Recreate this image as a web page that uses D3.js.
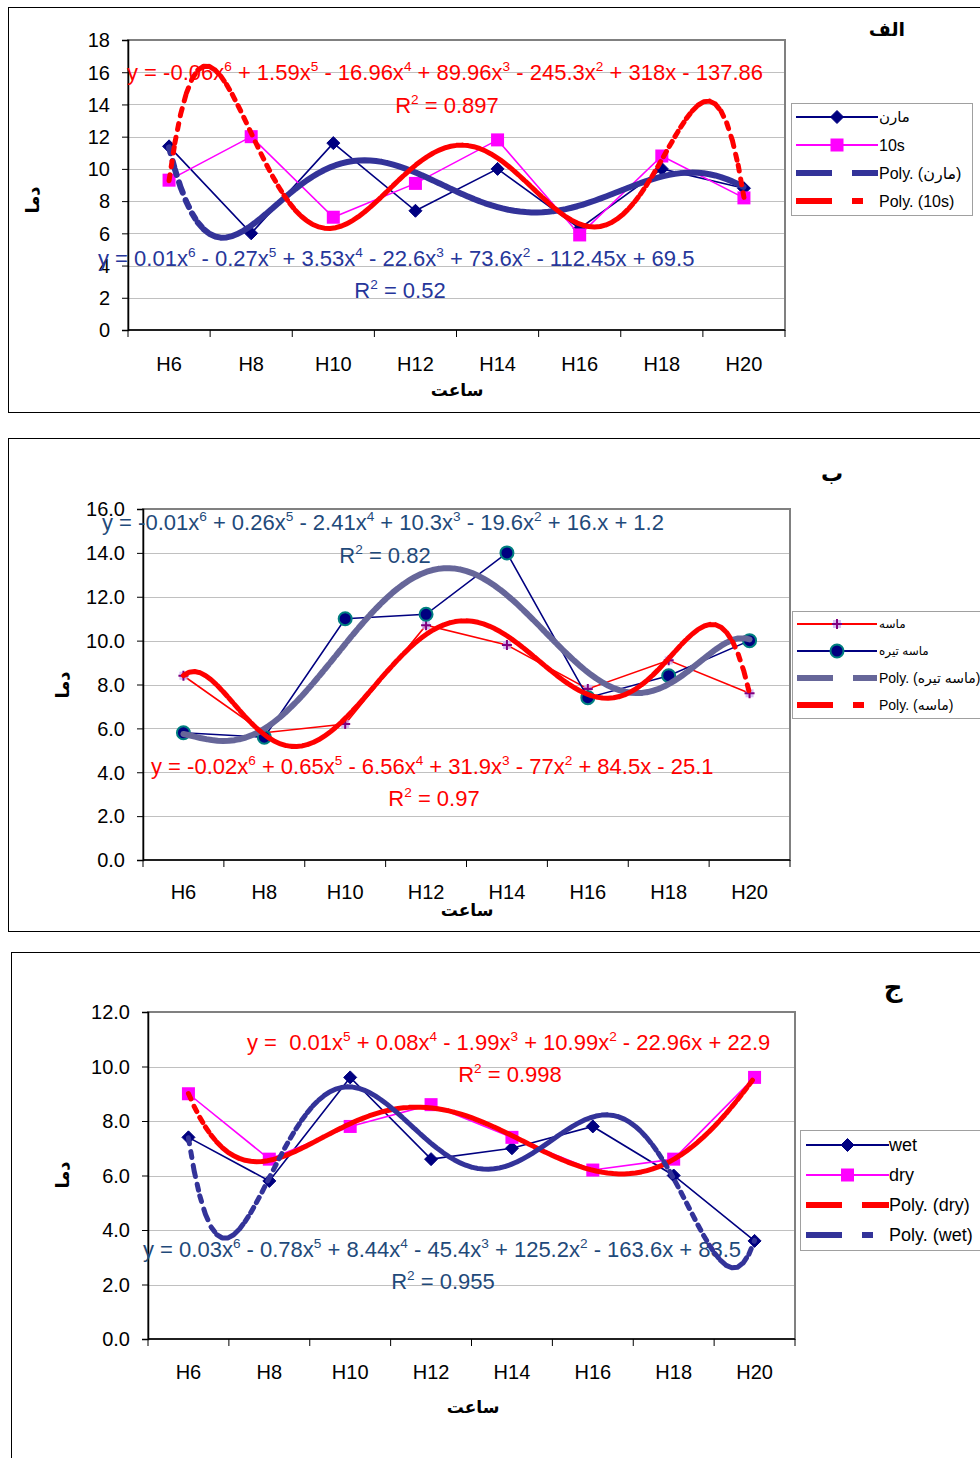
<!DOCTYPE html>
<html>
<head>
<meta charset="utf-8">
<script src="https://cdn.jsdelivr.net/npm/d3@7"></script>
<style>
  body { margin: 0; background: #fff; }
  svg { display: block; }
  text { font-family: "Liberation Sans", Arial, "DejaVu Sans", sans-serif; }
</style>
</head>
<body>
<svg id="chart" width="980" height="1458"></svg>
<script>
// ---- data ----
const hours = ["H6", "H8", "H10", "H12", "H14", "H16", "H18", "H20"];

// panel الف
const marnValues = [11.4, 6.0, 11.6, 7.4, 10.0, 6.3, 10.0, 8.8];
const s10Values = [9.3, 12.0, 7.0, 9.1, 11.8, 5.9, 10.8, 8.2];
const ticksA = [0, 2, 4, 6, 8, 10, 12, 14, 16, 18];

// panel ب
const masehValues = [8.4, 5.8, 6.2, 10.7, 9.8, 7.8, 9.1, 7.6];
const masehTirehValues = [5.8, 5.6, 11.0, 11.2, 14.0, 7.4, 8.4, 10.0];
const ticksB = [0, 2, 4, 6, 8, 10, 12, 14, 16];

// panel ج
const wetValues = [7.4, 5.8, 9.6, 6.6, 7.0, 7.8, 6.0, 3.6];
const dryValues = [9.0, 6.6, 7.8, 8.6, 7.4, 6.2, 6.6, 9.6];
const ticksC = [0, 2, 4, 6, 8, 10, 12];

// trendline labels
const eqA = ["y = -0.06x^6 + 1.59x^5 - 16.96x^4 + 89.96x^3 - 245.3x^2 + 318x - 137.86", "R^2 = 0.897",
             "y = 0.01x^6 - 0.27x^5 + 3.53x^4 - 22.6x^3 + 73.6x^2 - 112.45x + 69.5", "R^2 = 0.52"];
const eqB = ["y = -0.01x^6 + 0.26x^5 - 2.41x^4 + 10.3x^3 - 19.6x^2 + 16.x + 1.2", "R^2 = 0.82",
             "y = -0.02x^6 + 0.65x^5 - 6.56x^4 + 31.9x^3 - 77x^2 + 84.5x - 25.1", "R^2 = 0.97"];
const eqC = ["y =  0.01x^5 + 0.08x^4 - 1.99x^3 + 10.99x^2 - 22.96x + 22.9", "R^2 = 0.998",
             "y = 0.03x^6 - 0.78x^5 + 8.44x^4 - 45.4x^3 + 125.2x^2 - 163.6x + 83.5", "R^2 = 0.955"];

const axisTitle = "ساعت";
const valueTitle = "دما";

// ---- least squares polynomial trend (x = 1..n, like a spreadsheet trendline) ----
function polyfit(ys, deg) {
  const n = ys.length, mid = (n + 1) / 2, half = (n - 1) / 2;
  const m = deg + 1;
  const A = Array.from({length: m}, () => new Array(m).fill(0));
  const b = new Array(m).fill(0);
  ys.forEach((y, i) => {
    const t = (i + 1 - mid) / half;
    for (let r = 0; r < m; r++) {
      b[r] += y * Math.pow(t, r);
      for (let c = 0; c < m; c++) A[r][c] += Math.pow(t, r + c);
    }
  });
  for (let col = 0; col < m; col++) {
    let piv = col;
    for (let r = col + 1; r < m; r++) if (Math.abs(A[r][col]) > Math.abs(A[piv][col])) piv = r;
    [A[col], A[piv]] = [A[piv], A[col]];
    [b[col], b[piv]] = [b[piv], b[col]];
    for (let r = col + 1; r < m; r++) {
      const f = A[r][col] / A[col][col];
      for (let c = col; c < m; c++) A[r][c] -= f * A[col][c];
      b[r] -= f * b[col];
    }
  }
  const coef = new Array(m).fill(0);
  for (let r = m - 1; r >= 0; r--) {
    let s = b[r];
    for (let c = r + 1; c < m; c++) s -= A[r][c] * coef[c];
    coef[r] = s / A[r][r];
  }
  return x => {
    const t = (x - mid) / half;
    let v = 0;
    for (let k = m - 1; k >= 0; k--) v = v * t + coef[k];
    return v;
  };
}

const svg = d3.select("#chart");

function richText(g, str, x, y, opts) {
  const t = g.append("text")
    .attr("x", x).attr("y", y)
    .attr("fill", opts.color)
    .attr("font-size", opts.size)
    .attr("text-anchor", opts.anchor || "start");
  const parts = str.split(/\^(\d)/);
  parts.forEach((p, i) => {
    if (i % 2 === 0) {
      if (!p) return;
      const ts = t.append("tspan").text(p).attr("xml:space", "preserve");
      if (i > 0) ts.attr("dy", opts.size * 0.4);
    } else {
      t.append("tspan").text(p).attr("font-size", opts.size * 0.62).attr("dy", -opts.size * 0.4);
    }
  });
  t.style("white-space", "pre");
  return t;
}

function drawMarker(g, type, cx, cy, color) {
  if (type === "diamond") {
    const r = 6.5;
    g.append("path")
      .attr("d", `M${cx},${cy - r}L${cx + r},${cy}L${cx},${cy + r}L${cx - r},${cy}Z`)
      .attr("fill", color).attr("stroke", color).attr("stroke-width", 1);
  } else if (type === "square") {
    g.append("rect").attr("x", cx - 6.5).attr("y", cy - 6.5).attr("width", 13).attr("height", 13)
      .attr("fill", color);
  } else if (type === "circle") {
    g.append("circle").attr("cx", cx).attr("cy", cy).attr("r", 6.5)
      .attr("fill", "#000080").attr("stroke", "#008080").attr("stroke-width", 2);
  } else if (type === "plus") {
    g.append("rect").attr("x", cx - 4).attr("y", cy - 4).attr("width", 8).attr("height", 8)
      .attr("fill", "#C8A8F0").attr("opacity", 0.75);
    g.append("path").attr("d", `M${cx - 5},${cy}H${cx + 5}M${cx},${cy - 5}V${cy + 5}`)
      .attr("stroke", "#800080").attr("stroke-width", 2);
  }
}

function drawPanel(cfg) {
  const g = svg.append("g");
  const p = cfg.plot;

  // outer frame
  g.append("rect").attr("x", cfg.frame.x + 0.5).attr("y", cfg.frame.y + 0.5)
    .attr("width", cfg.frame.w).attr("height", cfg.frame.h)
    .attr("fill", "none").attr("stroke", "#000").attr("stroke-width", 1);

  const xBand = d3.scaleBand().domain(hours).range([p.left, p.right]);
  const xNum = d3.scaleLinear().domain([0.5, hours.length + 0.5]).range([p.left, p.right]);
  const y = d3.scaleLinear().domain([0, cfg.ticks[cfg.ticks.length - 1]]).range([p.bottom, p.top]);

  // gridlines
  g.append("g").selectAll("line").data(cfg.ticks.slice(1)).join("line")
    .attr("x1", p.left).attr("x2", p.right)
    .attr("y1", d => Math.round(y(d)) + 0.5).attr("y2", d => Math.round(y(d)) + 0.5)
    .attr("stroke", "#C0C0C0").attr("stroke-width", 1);

  // plot area border
  g.append("rect").attr("x", p.left).attr("y", p.top)
    .attr("width", p.right - p.left).attr("height", p.bottom - p.top)
    .attr("fill", "none").attr("stroke", "#808080").attr("stroke-width", 2);

  // y axis
  const yAxis = d3.axisLeft(y).tickValues(cfg.ticks).tickFormat(cfg.fmt).tickSize(6).tickPadding(12);
  const ya = g.append("g").attr("transform", `translate(${p.left},0)`).call(yAxis);
  ya.select(".domain").attr("stroke", "#000").attr("stroke-width", 1.5);
  ya.selectAll(".tick line").attr("stroke", "#000");
  ya.selectAll(".tick text").attr("font-size", 20).attr("fill", "#000")
    .attr("font-family", '"Liberation Sans", Arial, sans-serif')
    .attr("dy", "0.34em");

  // x axis (ticks at category boundaries)
  const xa = g.append("g").attr("transform", `translate(0,${p.bottom})`);
  xa.append("line").attr("x1", p.left).attr("x2", p.right).attr("y1", 0).attr("y2", 0)
    .attr("stroke", "#000").attr("stroke-width", 1.5);
  xa.selectAll("line.tk").data(d3.range(hours.length + 1)).join("line").attr("class", "tk")
    .attr("x1", i => p.left + i * xBand.step()).attr("x2", i => p.left + i * xBand.step())
    .attr("y1", 0).attr("y2", 7).attr("stroke", "#000");
  xa.selectAll("text").data(hours).join("text")
    .attr("x", d => xBand(d) + xBand.bandwidth() / 2).attr("y", cfg.xLabelY - p.bottom)
    .attr("text-anchor", "middle").attr("font-size", 20).text(d => d);

  // titles
  g.append("text").attr("x", cfg.axisTitle[0]).attr("y", cfg.axisTitle[1])
    .attr("text-anchor", "middle").attr("font-size", 17).attr("font-weight", "bold").text(axisTitle);
  g.append("text").attr("transform", `translate(${cfg.valueTitle[0]},${cfg.valueTitle[1]}) rotate(-90)`)
    .attr("text-anchor", "middle").attr("dy", "0.35em")
    .attr("font-size", 18).attr("font-weight", "bold").text(valueTitle);
  g.append("text").attr("x", cfg.title[0]).attr("y", cfg.title[1])
    .attr("text-anchor", "middle").attr("font-size", cfg.title[2]).attr("font-weight", "bold")
    .attr("font-family", '"DejaVu Sans", sans-serif').text(cfg.title[3]);

  // trendline labels (beneath the marks)
  cfg.labels.forEach(l => richText(g, l.text, l.x, l.y, {color: l.color, size: l.size || 22, anchor: l.anchor}));

  // series lines + markers
  cfg.series.forEach(s => {
    const pts = s.values.map((v, i) => [xBand(hours[i]) + xBand.bandwidth() / 2, y(v)]);
    g.append("path").attr("d", d3.line()(pts)).attr("fill", "none")
      .attr("stroke", s.color).attr("stroke-width", 1.6);
    pts.forEach(pt => drawMarker(g, s.marker, pt[0], pt[1], s.markerColor || s.color));
  });

  // polynomial trendlines, drawn as short pieces so steep stretches break into dashes
  cfg.trends.forEach(t => {
    const f = polyfit(t.source, t.deg);
    const xs = d3.range(1, hours.length + 1e-9, 0.07);
    if (xs[xs.length - 1] < hours.length) xs.push(hours.length);
    let d = "";
    for (let i = 0; i < xs.length - 1; i++) {
      d += `M${xNum(xs[i])},${y(f(xs[i]))}L${xNum(xs[i + 1])},${y(f(xs[i + 1]))}`;
    }
    g.append("path").attr("d", d).attr("fill", "none")
      .attr("stroke", t.color).attr("stroke-width", t.width || 5)
      .attr("stroke-linecap", "round").attr("stroke-dasharray", "6,8");
  });

  // legend
  const L = cfg.legend;
  g.append("rect").attr("x", L.x + 0.5).attr("y", L.y + 0.5).attr("width", L.w).attr("height", L.h)
    .attr("fill", "#fff").attr("stroke", "#A0A0A0");
  L.items.forEach((it, i) => {
    const ry = L.rows[i];
    if (it.marker) {
      g.append("line").attr("x1", L.s0).attr("x2", L.s1).attr("y1", ry).attr("y2", ry)
        .attr("stroke", it.color).attr("stroke-width", 2);
      drawMarker(g, it.marker, (L.s0 + L.s1) / 2, ry, it.markerColor || it.color);
    } else {
      g.append("line").attr("x1", L.s0).attr("x2", L.s1).attr("y1", ry).attr("y2", ry)
        .attr("stroke", it.color).attr("stroke-width", 6).attr("stroke-dasharray", it.dash);
    }
    g.append("text").attr("x", L.tx).attr("y", ry).attr("dy", "0.36em")
      .attr("font-size", it.size || L.size).attr("fill", "#000").text(it.label);
  });
}

const NAVY = "#000080", MAGENTA = "#FF00FF", RED = "#FF0000", SLATE = "#333399", GREYBLUE = "#666699";
const LONG_DASH = "36,20", DASH_DOT = "36,20,11,30";

// panel الف
drawPanel({
  frame: {x: 8, y: 7, w: 1000, h: 405},
  plot: {left: 128, right: 785, top: 40, bottom: 330},
  ticks: ticksA, fmt: d3.format("d"),
  xLabelY: 371, axisTitle: [457, 396], valueTitle: [33, 200], title: [887, 36, 19, "الف"],
  series: [
    {values: marnValues, color: NAVY, marker: "diamond"},
    {values: s10Values, color: MAGENTA, marker: "square"}
  ],
  trends: [
    {source: marnValues, deg: 6, color: SLATE, width: 6},
    {source: s10Values, deg: 6, color: RED, width: 5}
  ],
  labels: [
    {text: eqA[0], x: 127, y: 80, color: RED},
    {text: eqA[1], x: 447, y: 113, color: RED, anchor: "middle"},
    {text: eqA[2], x: 98, y: 266, color: "#26369A"},
    {text: eqA[3], x: 400, y: 298, color: "#26369A", anchor: "middle"}
  ],
  legend: {
    x: 791, y: 103, w: 181, h: 112, rows: [117, 145, 173, 201], s0: 796, s1: 878, tx: 879, size: 16,
    items: [
      {label: "مارن", color: NAVY, marker: "diamond", size: 15},
      {label: "10s", color: MAGENTA, marker: "square"},
      {label: "Poly. (مارن)", color: SLATE, dash: LONG_DASH},
      {label: "Poly. (10s)", color: RED, dash: DASH_DOT}
    ]
  }
});

// panel ب
drawPanel({
  frame: {x: 8, y: 438, w: 1000, h: 493},
  plot: {left: 143, right: 790, top: 509, bottom: 860},
  ticks: ticksB, fmt: d3.format(".1f"),
  xLabelY: 899, axisTitle: [467, 916], valueTitle: [63, 685], title: [832, 481, 22, "ب"],
  series: [
    {values: masehValues, color: RED, marker: "plus"},
    {values: masehTirehValues, color: NAVY, marker: "circle"}
  ],
  trends: [
    {source: masehTirehValues, deg: 6, color: GREYBLUE, width: 6},
    {source: masehValues, deg: 6, color: RED, width: 5}
  ],
  labels: [
    {text: eqB[0], x: 102, y: 530, color: "#1F4A7A"},
    {text: eqB[1], x: 385, y: 563, color: "#1F4A7A", anchor: "middle"},
    {text: eqB[2], x: 151, y: 774, color: RED},
    {text: eqB[3], x: 434, y: 806, color: RED, anchor: "middle"}
  ],
  legend: {
    x: 792, y: 611, w: 200, h: 107, rows: [624, 651, 678, 705], s0: 797, s1: 877, tx: 879, size: 14,
    items: [
      {label: "ماسه", color: RED, marker: "plus", size: 12},
      {label: "ماسه تیره", color: NAVY, marker: "circle", size: 12},
      {label: "Poly. (ماسه تیره)", color: GREYBLUE, dash: LONG_DASH},
      {label: "Poly. (ماسه)", color: RED, dash: DASH_DOT}
    ]
  }
});

// panel ج
drawPanel({
  frame: {x: 11, y: 952, w: 1000, h: 520},
  plot: {left: 148, right: 795, top: 1012, bottom: 1339},
  ticks: ticksC, fmt: d3.format(".1f"),
  xLabelY: 1379, axisTitle: [473, 1413], valueTitle: [63, 1175], title: [893, 996, 26, "ج"],
  series: [
    {values: wetValues, color: NAVY, marker: "diamond"},
    {values: dryValues, color: MAGENTA, marker: "square"}
  ],
  trends: [
    {source: dryValues, deg: 5, color: RED, width: 5},
    {source: wetValues, deg: 6, color: SLATE, width: 5}
  ],
  labels: [
    {text: eqC[0], x: 247, y: 1050, color: RED},
    {text: eqC[1], x: 510, y: 1082, color: RED, anchor: "middle"},
    {text: eqC[2], x: 143, y: 1257, color: "#1F4A7A"},
    {text: eqC[3], x: 443, y: 1289, color: "#1F4A7A", anchor: "middle"}
  ],
  legend: {
    x: 800, y: 1130, w: 200, h: 120, rows: [1145, 1175, 1205, 1235], s0: 806, s1: 889, tx: 889, size: 18,
    items: [
      {label: "wet", color: NAVY, marker: "diamond"},
      {label: "dry", color: MAGENTA, marker: "square"},
      {label: "Poly. (dry)", color: RED, dash: LONG_DASH},
      {label: "Poly. (wet)", color: SLATE, dash: DASH_DOT}
    ]
  }
});
</script>
</body>
</html>
